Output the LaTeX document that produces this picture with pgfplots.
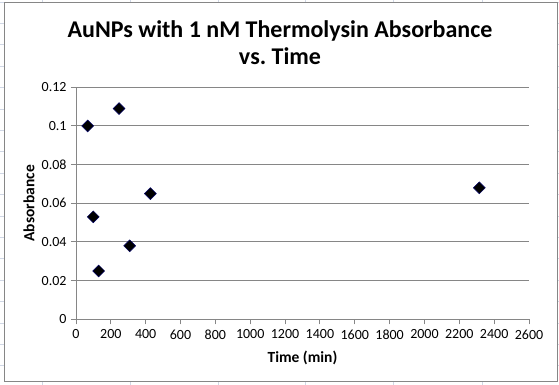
\documentclass[border=0pt]{standalone}
\usepackage{pgfplots}
\pgfplotsset{compat=1.18}
\usepackage{fontspec}
\setmainfont{Carlito}
\definecolor{xlgray}{HTML}{868686}
\definecolor{cellgray}{HTML}{D0D7E5}
\frenchspacing
\begin{document}
\begin{tikzpicture}
\path[use as bounding box] (0bp,0bp) rectangle (559bp,385bp);
\foreach \c in {42,130,218,305,393,482}
  \draw[cellgray,line width=0.8bp] (\c bp,0bp) -- (\c bp,385bp);
\foreach \r in {0,...,18}
  \draw[cellgray,line width=0.8bp] (0bp,{(385-2-\r*21.4)*1bp}) -- (559bp,{(385-2-\r*21.4)*1bp});
\filldraw[fill=white,draw=xlgray,line width=1bp] (4bp,3bp) rectangle (557bp,382bp);
\node[font=\bfseries\fontsize{24bp}{27bp}\selectfont,align=center] at (280bp,342bp)
  {AuNPs with 1 nM Thermolysin Absorbance\\vs. Time};
\begin{axis}[
  at={(76bp,65.7bp)}, anchor=origin,
  scale only axis, width=453bp, height=232bp,
  xmin=0, xmax=2600, ymin=0, ymax=0.12,
  xtick={0,200,...,2600},
  ytick={0,0.02,0.04,0.06,0.08,0.1,0.12},
  yticklabels={0,0.02,0.04,0.06,0.08,0.1,0.12},
  axis x line*=bottom, axis y line*=left,
  axis line style={xlgray,line width=1bp,-},
  ymajorgrids, grid style={xlgray,line width=1bp},
  tick align=outside, major tick length=5bp,
  tick style={xlgray,line width=1bp},
  /pgf/number format/assume math mode=true,
  /pgf/number format/1000 sep={},
  ticklabel style={font=\fontsize{14bp}{16bp}\selectfont},
  xticklabel style={yshift=-2bp},
  yticklabel style={xshift=-1bp},
  xlabel={Time (min)}, ylabel={Absorbance},
  label style={font=\bfseries\fontsize{15.5bp}{17bp}\selectfont},
  xlabel style={at={(axis description cs:0.5,-0.168)},anchor=center},
  ylabel style={at={(axis description cs:-0.104,0.5)},anchor=center},
  clip=false,
]
\addplot[only marks, mark=square*, mark size=4.2bp,
  mark options={rotate=45, fill=black, draw=black!60!blue, line width=0.5bp}]
  coordinates {
  (67,0.100) (99,0.053) (130,0.025) (247,0.109) (308,0.038) (427,0.065) (2315,0.068)
};
\end{axis}
\end{tikzpicture}
\end{document}
